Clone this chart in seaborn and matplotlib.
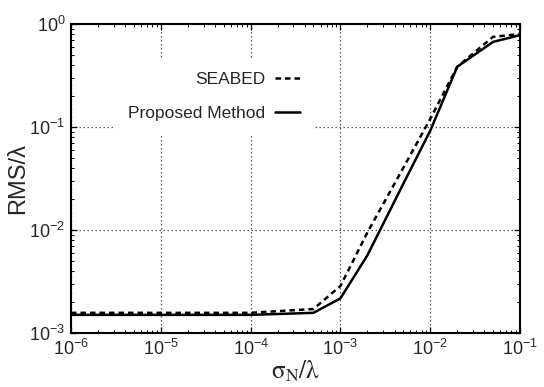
import pandas as pd
import matplotlib
matplotlib.use("Agg")
import matplotlib.pyplot as plt
import matplotlib.ticker as mticker
import seaborn as sns

# noise level sigma_N / lambda
noise = [1e-6, 1e-5, 1e-4, 5e-4, 1e-3, 2e-3, 5e-3, 1e-2, 2e-2, 5e-2, 1e-1]

# RMS / lambda for each method
seabed = [1.57e-3, 1.57e-3, 1.57e-3, 1.71e-3, 2.86e-3, 9.5e-3, 0.040, 0.120, 0.385, 0.75, 0.80]
proposed = [1.50e-3, 1.50e-3, 1.50e-3, 1.57e-3, 2.17e-3, 5.7e-3, 0.028, 0.092, 0.385, 0.67, 0.78]

labels = ["SEABED", "Proposed Method"]


def main():
    sns.set_style("ticks")
    plt.rcParams["font.family"] = ["Liberation Sans", "DejaVu Sans"]
    plt.rcParams["mathtext.fontset"] = "custom"
    plt.rcParams["mathtext.rm"] = "Liberation Sans"
    plt.rcParams["mathtext.it"] = "Liberation Sans:italic"
    plt.rcParams["mathtext.bf"] = "Liberation Sans:bold"

    df = pd.concat([
        pd.DataFrame({"noise": noise, "rms": seabed, "method": labels[0]}),
        pd.DataFrame({"noise": noise, "rms": proposed, "method": labels[1]}),
    ], ignore_index=True)

    fig = plt.figure(figsize=(5.44, 3.87), dpi=100)
    ax = fig.add_axes([0.1305, 0.1395, 0.8255, 0.7985])

    sns.lineplot(data=df, x="noise", y="rms", style="method",
                 dashes={labels[0]: (2.2, 1.6), labels[1]: ""},
                 color="black", linewidth=1.8, ax=ax, legend=True)

    ax.set_xscale("log")
    ax.set_yscale("log")
    ax.set_xlim(1e-6, 1e-1)
    ax.set_ylim(1e-3, 1e0)

    ax.xaxis.set_major_locator(mticker.LogLocator(base=10, numticks=10))
    ax.yaxis.set_major_locator(mticker.LogLocator(base=10, numticks=10))
    ax.xaxis.set_minor_locator(mticker.LogLocator(base=10, subs=range(2, 10), numticks=20))
    ax.yaxis.set_minor_locator(mticker.LogLocator(base=10, subs=range(2, 10), numticks=20))

    ax.grid(True, which="major", linestyle=(0, (1.2, 2.0)), color="#555555", linewidth=0.9)
    ax.set_axisbelow(True)

    ax.tick_params(which="both", direction="in", top=True, right=True, color="black")
    ax.tick_params(which="major", length=4, width=0.9, labelsize=13)
    ax.tick_params(axis="x", which="major", pad=4)
    ax.tick_params(axis="y", which="major", pad=4)
    ax.tick_params(which="minor", length=2.5, width=0.7)
    for s in ax.spines.values():
        s.set_linewidth(1.5)
        s.set_color("black")

    ax.set_ylabel("RMS/λ", fontsize=17, labelpad=0)
    ax.set_xlabel(r"$\mathrm{\sigma_{N}/\lambda}$", fontsize=18, labelpad=0,
                  math_fontfamily="stix")

    handles, lbls = ax.get_legend_handles_labels()
    leg = ax.legend(handles, lbls, loc="center", bbox_to_anchor=(0.318, 0.765),
                    markerfirst=False, frameon=True, fancybox=False,
                    facecolor="white", edgecolor="none", framealpha=1,
                    fontsize=12.5, handlelength=1.4, handletextpad=0.6,
                    labelspacing=1.05, borderpad=0.85)
    leg.set_zorder(5)

    plt.savefig("out.png", dpi=100)
    plt.close()


if __name__ == "__main__":
    main()
